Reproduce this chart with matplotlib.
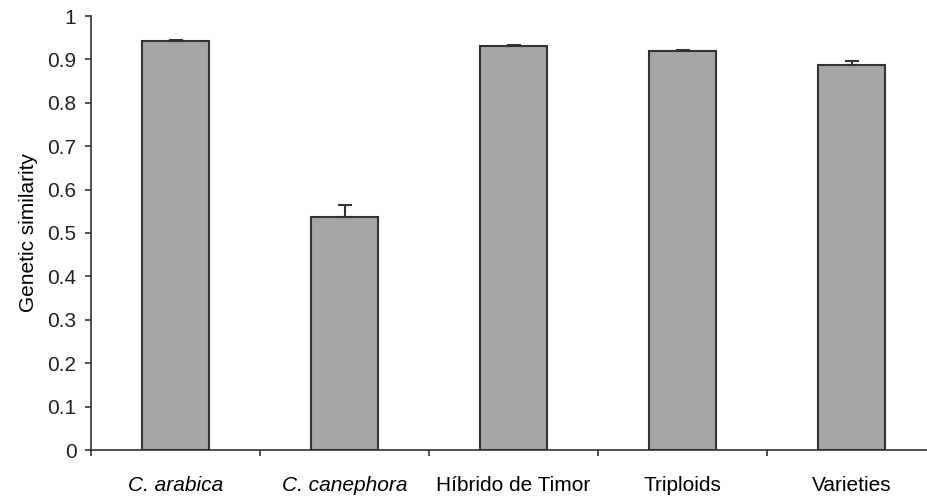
import numpy as np
import matplotlib.pyplot as plt

# data
categorias = ['C. arabica', 'C. canephora', 'Híbrido de Timor', 'Triploids', 'Varieties']
similitud = [0.942, 0.538, 0.931, 0.919, 0.888]
error = [0.003, 0.027, 0.003, 0.002, 0.008]
cursiva = [True, True, False, False, False]

plt.rcParams['font.family'] = ['Liberation Sans', 'DejaVu Sans']

fig = plt.figure(figsize=(9.27, 4.96), dpi=100)
ax = fig.add_axes([91/927, 46/496, 845/927, 434/496])

x = np.arange(len(categorias))
ax.bar(x, similitud, width=0.40, color='#a6a6a6', edgecolor='#333333', linewidth=1.5,
       yerr=[np.zeros(len(error)), error], capsize=5,
       error_kw=dict(ecolor='#333333', elinewidth=1.5, capthick=1.5), zorder=2)

ax.set_xlim(-0.5, len(categorias) - 0.5)
ax.set_ylim(0, 1)
ax.set_yticks(np.arange(0, 1.01, 0.1))
ax.set_yticklabels(['0'] + ['%.1f' % v for v in np.arange(0.1, 0.95, 0.1)] + ['1'], fontsize=15)

ax.set_xticks(x)
ax.set_xticklabels(categorias, fontsize=15)
for lab, it in zip(ax.get_xticklabels(), cursiva):
    if it:
        lab.set_style('italic')
ax.set_xticks(np.arange(-0.5, len(categorias)), minor=True)
ax.tick_params(axis='x', which='major', length=0, pad=18.5)
ax.tick_params(axis='x', which='minor', length=4.5, width=1.2, color='#333333')
ax.tick_params(axis='y', length=4.5, width=1.2, color='#333333', pad=6, labelcolor='#222222')

ax.set_ylabel('Genetic similarity', fontsize=15, labelpad=7)

for s in ['top', 'right']:
    ax.spines[s].set_visible(False)
for s in ['left', 'bottom']:
    ax.spines[s].set_color('#333333')
    ax.spines[s].set_linewidth(1.2)

fig.savefig('out.png', dpi=100)
